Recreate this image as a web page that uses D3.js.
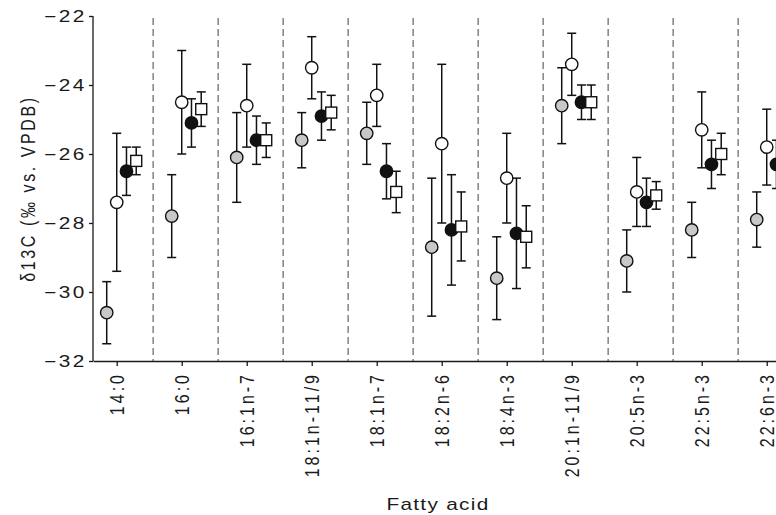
<!DOCTYPE html>
<html>
<head>
<meta charset="utf-8">
<script src="https://cdn.jsdelivr.net/npm/d3@7"></script>
<style>
  body { margin: 0; background: #fff; }
  svg { display: block; overflow: hidden; }
  text { font-family: "Liberation Sans", Arial, sans-serif; fill: #1a1a1a; }
  .axis path, .axis line { stroke: #1a1a1a; stroke-width: 1.3; }
</style>
</head>
<body>
<div id="chart"></div>
<script>
// fatty acids on the x axis
var categories = ["14:0", "16:0", "16:1n-7", "18:1n-11/9", "18:1n-7", "18:2n-6",
    "18:4n-3", "20:1n-11/9", "20:5n-3", "22:5n-3", "22:6n-3"];

// grey circles
var greyMean = [-30.6, -27.8, -26.1, -25.6, -25.4, -28.7, -29.6, -24.6, -29.1, -28.2, -27.9];
var greyHigh = [-29.7, -26.6, -24.8, -24.8, -24.5, -26.7, -28.4, -23.5, -28.2, -27.4, -27.1];
var greyLow  = [-31.5, -29.0, -27.4, -26.4, -26.3, -30.7, -30.8, -25.7, -30.0, -29.0, -28.7];

// open circles
var openMean = [-27.4, -24.5, -24.6, -23.5, -24.3, -25.7, -26.7, -23.4, -27.1, -25.3, -25.8];
var openHigh = [-25.4, -23.0, -23.4, -22.6, -23.4, -23.4, -25.4, -22.5, -26.1, -24.2, -24.7];
var openLow  = [-29.4, -26.0, -25.8, -24.4, -25.2, -28.0, -28.0, -24.3, -28.1, -26.4, -26.9];

// filled circles
var filledMean = [-26.5, -25.1, -25.6, -24.9, -26.5, -28.2, -28.3, -24.5, -27.4, -26.3, -26.3];
var filledHigh = [-25.8, -24.4, -24.9, -24.2, -25.7, -26.6, -26.7, -24.0, -26.7, -25.6, -25.6];
var filledLow  = [-27.2, -25.8, -26.3, -25.6, -27.3, -29.8, -29.9, -25.0, -28.1, -27.0, -27.0];

// open squares
var squareMean = [-26.2, -24.7, -25.6, -24.8, -27.1, -28.1, -28.4, -24.5, -27.2, -26.0, -26.0];
var squareHigh = [-25.8, -24.2, -25.1, -24.3, -26.5, -27.1, -27.5, -24.0, -26.8, -25.4, -25.5];
var squareLow  = [-26.6, -25.2, -26.1, -25.3, -27.7, -29.1, -29.3, -25.0, -27.6, -26.6, -26.5];

var yTicks = [-22, -24, -26, -28, -30, -32];

// set the dimensions and margins of the graph
var margin = { top: 16, right: 0, bottom: 154, left: 93 },
    width = 776 - margin.left - margin.right,
    height = 515 - margin.top - margin.bottom;

var stretch = 1.3;   // the figure's lettering is drawn a little wide

var svg = d3.select("#chart")
    .append("svg")
    .attr("width", width + margin.left + margin.right)
    .attr("height", height + margin.top + margin.bottom)
    .append("g")
    .attr("transform", "translate(" + margin.left + "," + margin.top + ")");

// one unit per fatty acid, the plot runs on past the right edge
var x = d3.scaleLinear()
    .domain([-0.365, 10.635])
    .range([0, 715]);

var y = d3.scaleLinear()
    .domain([-32, -22])
    .range([height, 0]);

// dashed separators between the fatty acids
svg.selectAll(".sep")
    .data(d3.range(categories.length - 1))
    .enter()
    .append("line")
    .attr("class", "sep")
    .attr("x1", function (d) { return x(d + 0.56); })
    .attr("x2", function (d) { return x(d + 0.56); })
    .attr("y1", 2)
    .attr("y2", height)
    .attr("stroke", "#555")
    .attr("stroke-width", 1.1)
    .attr("stroke-dasharray", "7,4");

// Y axis
var yAxis = svg.append("g")
    .attr("class", "axis")
    .call(d3.axisLeft(y)
        .tickValues(yTicks)
        .tickSize(4)
        .tickSizeOuter(0)
        .tickFormat(function (d) { return "\u2212" + Math.abs(d); }));
yAxis.select(".domain").attr("d", "M0," + y(-22) + "V" + height);
yAxis.selectAll("text")
    .attr("x", 0)
    .attr("dy", "0.36em")
    .attr("transform", "translate(-6,0) scale(" + stretch + ",1)")
    .style("font-size", "16px")
    .style("letter-spacing", "2px");

// X axis, labels are drawn by hand below
var xAxis = svg.append("g")
    .attr("class", "axis")
    .attr("transform", "translate(0," + height + ")")
    .call(d3.axisBottom(x)
        .tickValues(d3.range(categories.length))
        .tickSize(5)
        .tickSizeOuter(0)
        .tickFormat(""));

svg.selectAll(".xlabel")
    .data(categories)
    .enter()
    .append("text")
    .attr("class", "xlabel")
    .attr("text-anchor", "end")
    .attr("dominant-baseline", "central")
    .attr("transform", function (d, i) {
        return "translate(" + x(i) + "," + (height + 11) + ") rotate(-90) scale(1," + stretch + ")";
    })
    .style("font-size", "16px")
    .style("letter-spacing", "3px")
    .text(function (d) { return d; });

// y-label
svg.append("text")
    .attr("text-anchor", "middle")
    .attr("dominant-baseline", "central")
    .attr("transform", "translate(" + (28 - margin.left) + "," + (height / 2) + ") rotate(-90) scale(1," + stretch + ")")
    .style("font-size", "16px")
    .style("letter-spacing", "2.6px")
    .text("\u03B413C (\u2030 vs. VPDB)");

// x-label
svg.append("text")
    .attr("text-anchor", "middle")
    .attr("transform", "translate(" + (438 - margin.left) + "," + (height + 149) + ") scale(" + stretch + ",1)")
    .style("font-size", "16px")
    .style("letter-spacing", "1px")
    .text("Fatty acid");

// all four series, drawn in this order so later markers sit on top
var series = [
    { mean: greyMean, high: greyHigh, low: greyLow, offset: -0.154, shape: "circle", fill: "#c8c8c8" },
    { mean: openMean, high: openHigh, low: openLow, offset: 0, shape: "circle", fill: "#fff" },
    { mean: filledMean, high: filledHigh, low: filledLow, offset: 0.15, shape: "circle", fill: "#111" },
    { mean: squareMean, high: squareHigh, low: squareLow, offset: 0.3, shape: "square", fill: "#fff" }
];

var cap = 4.5, r = 6.2, side = 11;

series.forEach(function (s, k) {
    var rows = categories.map(function (c, i) {
        return { i: i, mean: s.mean[i], high: s.high[i], low: s.low[i] };
    });
    var g = svg.append("g").attr("class", "series" + k);

    // error bars
    var bars = g.selectAll(".bar")
        .data(rows)
        .enter()
        .append("g")
        .attr("class", "bar")
        .attr("stroke", "#111")
        .attr("stroke-width", 1.5);
    bars.append("line")
        .attr("x1", function (d) { return x(d.i + s.offset); })
        .attr("x2", function (d) { return x(d.i + s.offset); })
        .attr("y1", function (d) { return y(d.high); })
        .attr("y2", function (d) { return y(d.low); });
    bars.append("line")
        .attr("x1", function (d) { return x(d.i + s.offset) - cap; })
        .attr("x2", function (d) { return x(d.i + s.offset) + cap; })
        .attr("y1", function (d) { return y(d.high); })
        .attr("y2", function (d) { return y(d.high); });
    bars.append("line")
        .attr("x1", function (d) { return x(d.i + s.offset) - cap; })
        .attr("x2", function (d) { return x(d.i + s.offset) + cap; })
        .attr("y1", function (d) { return y(d.low); })
        .attr("y2", function (d) { return y(d.low); });

    // markers
    if (s.shape == "circle") {
        g.selectAll(".dot")
            .data(rows)
            .enter()
            .append("circle")
            .attr("class", "dot")
            .attr("cx", function (d) { return x(d.i + s.offset); })
            .attr("cy", function (d) { return y(d.mean); })
            .attr("r", r)
            .attr("fill", s.fill)
            .attr("stroke", "#111")
            .attr("stroke-width", 1.4);
    } else {
        g.selectAll(".dot")
            .data(rows)
            .enter()
            .append("rect")
            .attr("class", "dot")
            .attr("x", function (d) { return x(d.i + s.offset) - side / 2; })
            .attr("y", function (d) { return y(d.mean) - side / 2; })
            .attr("width", side)
            .attr("height", side)
            .attr("fill", s.fill)
            .attr("stroke", "#111")
            .attr("stroke-width", 1.4);
    }
});
</script>
</body>
</html>
